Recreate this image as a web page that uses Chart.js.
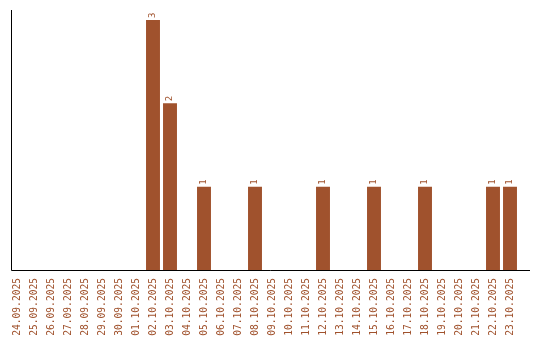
<!DOCTYPE html>
<html>
<head>
<meta charset="utf-8">
<script src="https://cdn.jsdelivr.net/npm/chart.js@4.4.1/dist/chart.umd.min.js"></script>
<style>
  html, body { margin: 0; padding: 0; background: #fff; }
  #wrap { width: 540px; height: 340px; }
</style>
</head>
<body>
<div id="wrap"><canvas id="myChart" width="540" height="340"></canvas></div>
<script>
// dates on the x axis
const days = ['24.09.2025','25.09.2025','26.09.2025','27.09.2025','28.09.2025','29.09.2025',
  '30.09.2025','01.10.2025','02.10.2025','03.10.2025','04.10.2025','05.10.2025','06.10.2025',
  '07.10.2025','08.10.2025','09.10.2025','10.10.2025','11.10.2025','12.10.2025','13.10.2025',
  '14.10.2025','15.10.2025','16.10.2025','17.10.2025','18.10.2025','19.10.2025','20.10.2025',
  '21.10.2025','22.10.2025','23.10.2025'];
// count per day
const counts = [0,0,0,0,0,0,0,0,3,2,0,1,0,0,1,0,0,0,1,0,0,1,0,0,1,0,0,0,1,1];

const brown = '#a0522d';
const monoFont = "'DejaVu Sans Mono', 'Liberation Mono', monospace";

// axis lines like the original (left + bottom)
const axisLines = {
  id: 'axisLines',
  afterDraw(chart) {
    const c = chart.ctx, a = chart.chartArea, x = chart.scales.x;
    const left = Math.round(x.getPixelForValue(0) - 6) + 0.5;
    const right = x.getPixelForValue(days.length - 1) + 20;
    const bottom = Math.round(a.bottom) + 0.5;
    c.save();
    c.strokeStyle = '#000';
    c.lineWidth = 1;
    c.beginPath();
    c.moveTo(left, a.top);
    c.lineTo(left, bottom);
    c.lineTo(right, bottom);
    c.stroke();
    c.restore();
  }
};

// rotated value labels on top of bars
const valueLabels = {
  id: 'valueLabels',
  afterDatasetsDraw(chart) {
    const c = chart.ctx;
    const meta = chart.getDatasetMeta(0);
    c.save();
    c.fillStyle = brown;
    c.font = '9px ' + monoFont;
    c.textAlign = 'left';
    c.textBaseline = 'middle';
    meta.data.forEach((bar, i) => {
      const v = counts[i];
      if (!v) return;
      c.save();
      c.translate(bar.x, bar.y - 2);
      c.rotate(-Math.PI / 2);
      c.fillText(String(v), 0, 0);
      c.restore();
    });
    c.restore();
  }
};

const ctx = document.getElementById('myChart').getContext('2d');
const myChart = new Chart(ctx, {
  type: 'bar',
  data: {
    labels: days,
    datasets: [{
      data: counts,
      backgroundColor: brown,
      borderWidth: 0,
      barPercentage: 0.82,
      categoryPercentage: 1
    }]
  },
  options: {
    responsive: false,
    animation: false,
    layout: { padding: { left: 8.5, right: 21.5, top: 10, bottom: 0 } },
    plugins: {
      legend: { display: false },
      tooltip: { enabled: false }
    },
    scales: {
      x: {
        offset: true,
        grid: { display: false, drawTicks: false },
        border: { display: false },
        afterFit(scale) { scale.height = 70; },
        ticks: {
          color: brown,
          font: { family: monoFont, size: 9.6 },
          minRotation: 90,
          maxRotation: 90,
          autoSkip: false,
          padding: 8
        }
      },
      y: {
        display: false,
        min: 0,
        max: 3.12
      }
    }
  },
  plugins: [axisLines, valueLabels]
});
</script>
</body>
</html>
